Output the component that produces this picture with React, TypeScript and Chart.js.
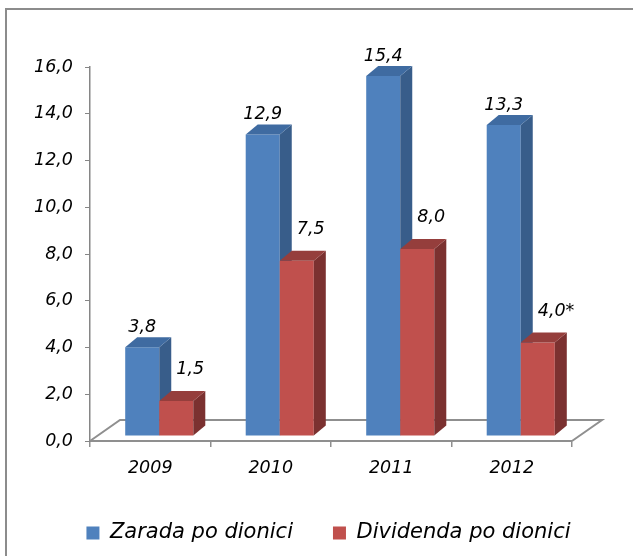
import React, { useEffect, useRef } from 'react';
import { Chart, registerables } from 'chart.js';

Chart.register(...registerables);

const categories = ['2009', '2010', '2011', '2012'];
const seriesNames = ['Zarada po dionici', 'Dividenda po dionici'];
const zarada = [3.8, 12.9, 15.4, 13.3];
const dividenda = [1.5, 7.5, 8.0, 4.0];
const dividendaNotes = ['', '', '', '*'];
const yTickLabels = ['0,0', '2,0', '4,0', '6,0', '8,0', '10,0', '12,0', '14,0', '16,0'];

const FONT = "'DejaVu Sans', sans-serif";
const FRONT = ['#4f81bd', '#c0504d'];
const SIDE = ['#385d8a', '#7b3130'];
const TOP = ['#3f6ba1', '#953e3c'];
const DX = 12;
const DY = 10;
const FDX = 30;
const FDY = 21;
const SHIFT_X = 9;
const SHIFT_Y = -5;

const fmt = (v: number) => v.toFixed(1).replace('.', ',');

const bars3d = {
  id: 'bars3d',
  beforeDatasetsDraw(chart: any) {
    const { ctx, chartArea } = chart;
    const { left, right, bottom } = chartArea;
    ctx.save();
    ctx.strokeStyle = '#8f8f8f';
    ctx.lineWidth = 2;
    ctx.beginPath();
    ctx.moveTo(left, bottom);
    ctx.lineTo(left + FDX, bottom - FDY);
    ctx.lineTo(right + FDX, bottom - FDY);
    ctx.lineTo(right, bottom);
    ctx.stroke();
    ctx.restore();
  },
  // the library's own per-dataset pass is skipped; bars are drawn below in 3D order
  beforeDatasetDraw() {
    return false;
  },
  afterDatasetsDraw(chart: any) {
    const { ctx } = chart;
    ctx.save();
    ctx.translate(SHIFT_X, SHIFT_Y);
    [0, 1].forEach((di) => {
      const meta = chart.getDatasetMeta(di);
      meta.data.forEach((el: any) => {
        el.draw(ctx);
        const { x, y, base, width } = el.getProps(['x', 'y', 'base', 'width'], true);
        const l = x - width / 2;
        const r = x + width / 2;
        ctx.fillStyle = SIDE[di];
        ctx.beginPath();
        ctx.moveTo(r, y);
        ctx.lineTo(r + DX, y - DY);
        ctx.lineTo(r + DX, base - DY);
        ctx.lineTo(r, base);
        ctx.closePath();
        ctx.fill();
        ctx.fillStyle = TOP[di];
        ctx.beginPath();
        ctx.moveTo(l, y);
        ctx.lineTo(l + DX, y - DY);
        ctx.lineTo(r + DX, y - DY);
        ctx.lineTo(r, y);
        ctx.closePath();
        ctx.fill();
      });
    });
    ctx.font = `italic 17.5px ${FONT}`;
    ctx.fillStyle = '#000';
    ctx.textBaseline = 'alphabetic';
    const m0 = chart.getDatasetMeta(0);
    const m1 = chart.getDatasetMeta(1);
    ctx.textAlign = 'center';
    m0.data.forEach((el: any, i: number) => {
      ctx.fillText(fmt(zarada[i]), el.x, el.y - 15);
    });
    ctx.textAlign = 'left';
    m1.data.forEach((el: any, i: number) => {
      ctx.fillText(fmt(dividenda[i]) + dividendaNotes[i], el.x, el.y - 27);
    });
    ctx.restore();
  },
};

export default function App() {
  const ref = useRef<HTMLCanvasElement | null>(null);
  useEffect(() => {
    if (!ref.current) return;
    const chart = new Chart(ref.current, {
      type: 'bar',
      data: {
        labels: categories,
        datasets: [
          {
            label: seriesNames[0],
            data: zarada,
            backgroundColor: FRONT[0],
            borderWidth: 0,
          },
          {
            label: seriesNames[1],
            data: dividenda,
            backgroundColor: FRONT[1],
            borderWidth: 0,
          },
        ],
      },
      options: {
        responsive: false,
        animation: false,
        devicePixelRatio: 1,
        layout: { padding: { left: 24, right: 0, top: 67, bottom: 2.5 } },
        datasets: { bar: { categoryPercentage: 0.565, barPercentage: 1 } },
        plugins: {
          tooltip: { enabled: false },
          legend: {
            position: 'bottom',
            labels: {
              font: { family: FONT, size: 21, style: 'italic' },
              color: '#000',
              boxWidth: 13,
              boxHeight: 13,
              padding: 40,
            },
          },
        },
        scales: {
          x: {
            grid: { drawOnChartArea: false, tickLength: 6, color: '#8f8f8f', lineWidth: 1.5 },
            border: { color: '#8f8f8f', width: 2 },
            ticks: { font: { family: FONT, size: 17.5, style: 'italic' }, color: '#000', padding: 11 },
            afterFit: (s: any) => {
              s.height = 41.5;
            },
          },
          y: {
            min: 0,
            max: 16,
            ticks: {
              stepSize: 2,
              callback: (_v: any, i: number) => yTickLabels[i],
              font: { family: FONT, size: 17.5, style: 'italic' },
              color: '#000',
              padding: 12,
            },
            grid: { drawOnChartArea: false, tickLength: 5, color: '#868686', lineWidth: 1 },
            border: { color: '#868686', width: 1.5 },
            afterFit: (s: any) => {
              s.width = 66;
            },
          },
          yR: {
            type: 'linear',
            position: 'right',
            display: true,
            grid: { display: false },
            border: { display: false },
            ticks: { display: false },
            afterFit: (s: any) => {
              s.width = 61;
            },
          },
        },
      } as any,
      plugins: [bars3d],
    });
    return () => chart.destroy();
  }, []);

  return (
    <div
      style={{
        position: 'fixed',
        left: 0,
        top: 0,
        width: 633,
        height: 556,
        overflow: 'hidden',
        background: '#fff',
      }}
    >
      <div
        style={{
          position: 'absolute',
          left: 5,
          top: 8,
          width: 800,
          height: 800,
          border: '2px solid #8c8c8c',
        }}
      />
      <canvas ref={ref} width={633} height={556} style={{ position: 'absolute', left: 0, top: 0 }} />
    </div>
  );
}
